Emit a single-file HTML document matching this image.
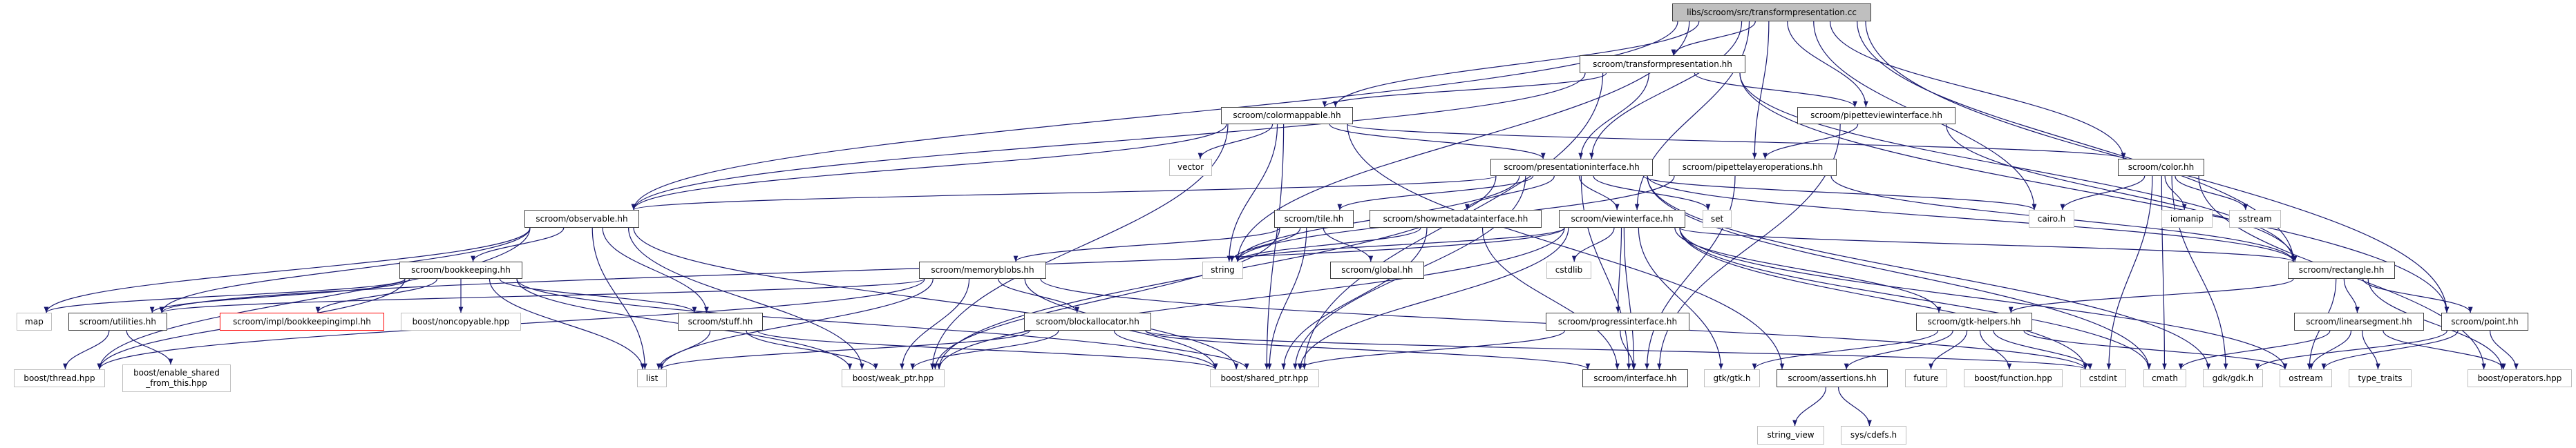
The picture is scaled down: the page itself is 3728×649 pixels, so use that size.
<!DOCTYPE html>
<html><head><meta charset="utf-8"><style>
html,body{margin:0;padding:0;background:#fff;}
#c{position:relative;width:3728px;height:649px;overflow:hidden;}
.n{position:absolute;box-sizing:border-box;border:1.5px solid #404040;background:#fff;font-family:"DejaVu Sans","Liberation Sans",sans-serif;font-size:12px;color:#000;display:flex;align-items:center;justify-content:center;text-align:center;line-height:15px;white-space:nowrap;}
.e{border-color:#bfbfbf;}
.r{border-color:#ff0000;}
.t{background:#bfbfbf;}
svg{position:absolute;left:0;top:0;}
</style></head><body><div id="c">
<svg id="s" width="3728" height="649"><defs><marker id="a" viewBox="0 0 10 10" refX="10" refY="5" markerWidth="7" markerHeight="7" orient="auto"><path d="M0,1 L10,5 L0,9 z" fill="#191970"/></marker></defs><g id="g" fill="none" stroke="#191970" stroke-width="1.2"></g></svg>
<div id="nodes"></div>
</div>
<script>
var R=[[5,31],[80,106],[155,180],[230,255],[304,330],[379,404],[453,479],[535,561],[617,644]];
var N={
cc:["libs/scroom/src/transformpresentation.cc",2420,2708,0,"t"],
tph:["scroom/transformpresentation.hh",2286,2526,1],
pvi:["scroom/pipetteviewinterface.hh",2601,2830,2],
cm:["scroom/colormappable.hh",1767,1958,2],
pi:["scroom/presentationinterface.hh",2157,2392,3],
plo:["scroom/pipettelayeroperations.hh",2415,2658,3],
vec:["vector",1692,1754,3,"e"],
col:["scroom/color.hh",3065,3190,3],
obs:["scroom/observable.hh",759,925,4],
tile:["scroom/tile.hh",1844,1959,4],
smi:["scroom/showmetadatainterface.hh",1982,2231,4],
vi:["scroom/viewinterface.hh",2256,2439,4],
set:["set",2464,2506,4,"e"],
cai:["cairo.h",2936,3002,4,"e"],
iom:["iomanip",3128,3202,4,"e"],
sst:["sstream",3226,3301,4,"e"],
bk:["scroom/bookkeeping.hh",578,756,5],
mb:["scroom/memoryblobs.hh",1330,1514,5],
str:["string",1740,1799,5,"e"],
glo:["scroom/global.hh",1925,2061,5],
csl:["cstdlib",2238,2303,5,"e"],
rect:["scroom/rectangle.hh",3311,3466,5],
map:["map",24,75,6,"e"],
ut:["scroom/utilities.hh",99,242,6],
bki:["scroom/impl/bookkeepingimpl.hh",318,556,6,"r"],
nc:["boost/noncopyable.hpp",580,754,6,"e"],
stuff:["scroom/stuff.hh",981,1104,6],
ba:["scroom/blockallocator.hh",1482,1666,6],
prog:["scroom/progressinterface.hh",2237,2445,6],
gh:["scroom/gtk-helpers.hh",2773,2941,6],
ls:["scroom/linearsegment.hh",3320,3508,6],
pt:["scroom/point.hh",3533,3659,6],
thr:["boost/thread.hpp",20,152,7,"e"],
esft:["boost/enable_shared\n_from_this.hpp",177,334,-1,"e"],
list:["list",922,965,7,"e"],
wp:["boost/weak_ptr.hpp",1218,1367,7,"e"],
sp:["boost/shared_ptr.hpp",1751,1909,7,"e"],
ifc:["scroom/interface.hh",2290,2443,7],
gtk:["gtk/gtk.h",2466,2547,7,"e"],
as:["scroom/assertions.hh",2571,2732,7],
fut:["future",2757,2818,7,"e"],
fn:["boost/function.hpp",2842,2985,7,"e"],
cst:["cstdint",3010,3077,7,"e"],
cmath:["cmath",3102,3164,7,"e"],
gdk:["gdk/gdk.h",3188,3275,7,"e"],
ost:["ostream",3299,3375,7,"e"],
tt:["type_traits",3399,3490,7,"e"],
op:["boost/operators.hpp",3571,3722,7,"e"],
sv:["string_view",2543,2640,8,"e"],
cd:["sys/cdefs.h",2664,2759,8,"e"]
};
var h="";
for(var k in N){var n=N[k];var y0,y1;if(n[3]<0){y0=528;y1=568;}else{y0=R[n[3]][0];y1=R[n[3]][1];}
n.y0=y0;n.y1=y1;
h+='<div class="n '+(n[4]||"")+'" style="left:'+n[1]+'px;top:'+y0+'px;width:'+(n[2]-n[1])+'px;height:'+(y1-y0)+'px">'+n[0].replace("\n","<br>")+'</div>';}
document.getElementById("nodes").innerHTML=h;
var E="cc tph,cc cm,cc pi,cc vi,cc pvi,cc plo,cc str,cc cai,cc col,cc rect,cc pt,cc obs,tph cm,tph pi,tph pvi,tph sp,tph rect,tph pt,tph obs,cm vec,cm str,cm obs,cm pi,cm col,cm as,cm wp,cm sp,pi obs,pi vi,pi tile,pi smi,pi set,pi str,pi cai,pi rect,pi ifc,pi wp,pi sp,pi gdk,pi cmath,pvi plo,pvi rect,pvi ifc,plo ifc,plo rect,plo str,vi csl,vi prog,vi ifc,vi gtk,vi gh,vi rect,vi str,vi sp,vi wp,vi cst,vi cmath,vi ost,vi ut,tile mb,tile glo,tile str,tile sp,tile wp,smi str,smi ifc,smi sp,obs bk,obs map,obs ut,obs list,obs thr,obs wp,obs sp,obs stuff,bk map,bk ut,bk bki,bk nc,bk stuff,bk list,bk wp,bk sp,bk thr,ut thr,ut esft,mb ba,mb list,mb ut,mb wp,mb sp,mb cst,mb thr,stuff list,stuff wp,stuff sp,ba list,ba wp,ba sp,ba ifc,ba cst,prog ifc,prog sp,gh gtk,gh as,gh fut,gh fn,gh cst,gh ost,as sv,as cd,col cai,col iom,col sst,col cst,col cmath,col gdk,col op,rect gh,rect ls,rect pt,rect ost,rect op,ls cmath,ls ost,ls tt,ls op,pt gdk,pt ost,pt op".split(",");
var p="";
E.forEach(function(e){var a=N[e.split(" ")[0]],b=N[e.split(" ")[1]];
var ac=(a[1]+a[2])/2,bc=(b[1]+b[2])/2;
var sx=Math.max(a[1]+8,Math.min(a[2]-8,ac+(bc-ac)*0.15));
var tx=Math.max(b[1]+8,Math.min(b[2]-8,bc+(ac-bc)*0.1));
var sy=a.y1,ty=b.y0,dy=ty-sy;
p+='<path marker-end="url(#a)" d="M'+sx+','+sy+' C'+sx+','+(sy+dy*0.45)+' '+tx+','+(ty-dy*0.45)+' '+tx+','+ty+'"/>';});
document.getElementById("g").innerHTML=p;
</script>
</body></html>
